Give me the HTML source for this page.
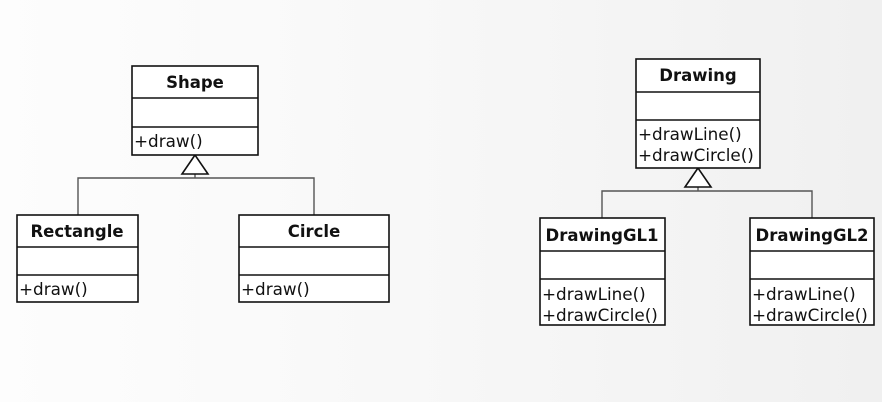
<!DOCTYPE html>
<html><head><meta charset="utf-8">
<style>
html,body{margin:0;padding:0;}
body{width:882px;height:402px;overflow:hidden;background:linear-gradient(90deg,#fdfdfd 0%,#f8f8f8 45%,#f0f0f0 100%);}
svg{display:block;}
text{font-family:"DejaVu Sans","Liberation Sans",sans-serif;fill:#111;}
.t{font-weight:bold;font-size:16.5px;text-anchor:middle;}
.m{font-size:16.8px;}
rect{fill:#fff;stroke:#111;stroke-width:1.6;}
line.d{stroke:#111;stroke-width:1.6;}
.c{stroke:#555;stroke-width:1.4;fill:none;}
.tri{fill:#fff;stroke:#111;stroke-width:1.6;}
</style></head>
<body>
<svg width="882" height="402">
  <g>
    <polyline class="c" points="78,215 78,178 314,178 314,215"/>
    <line class="c" x1="195" y1="174" x2="195" y2="178"/>
    <polygon class="tri" points="195,155 182,174 208,174"/>
    <g>
      <rect x="132" y="66" width="126" height="89"/>
      <line class="d" x1="132" y1="98" x2="258" y2="98"/>
      <line class="d" x1="132" y1="127" x2="258" y2="127"/>
      <text class="t" x="195" y="88">Shape</text>
      <text class="m" x="134" y="147">+draw()</text>
    </g>
    <g>
      <rect x="17" y="215" width="121" height="87"/>
      <line class="d" x1="17" y1="247" x2="138" y2="247"/>
      <line class="d" x1="17" y1="275" x2="138" y2="275"/>
      <text class="t" x="77" y="237">Rectangle</text>
      <text class="m" x="19" y="295">+draw()</text>
    </g>
    <g>
      <rect x="239" y="215" width="150" height="87"/>
      <line class="d" x1="239" y1="247" x2="389" y2="247"/>
      <line class="d" x1="239" y1="275" x2="389" y2="275"/>
      <text class="t" x="314" y="237">Circle</text>
      <text class="m" x="241" y="295">+draw()</text>
    </g>
  </g>
  <g>
    <polyline class="c" points="602,218 602,191 812,191 812,218"/>
    <line class="c" x1="698" y1="187" x2="698" y2="191"/>
    <polygon class="tri" points="698,168 685,187 711,187"/>
    <g>
      <rect x="636" y="59" width="124" height="109"/>
      <line class="d" x1="636" y1="92" x2="760" y2="92"/>
      <line class="d" x1="636" y1="120" x2="760" y2="120"/>
      <text class="t" x="698" y="81">Drawing</text>
      <text class="m" x="638" y="140">+drawLine()</text>
      <text class="m" x="638" y="161">+drawCircle()</text>
    </g>
    <g>
      <rect x="540" y="218" width="125" height="107"/>
      <line class="d" x1="540" y1="251" x2="665" y2="251"/>
      <line class="d" x1="540" y1="279" x2="665" y2="279"/>
      <text class="t" x="602" y="241">DrawingGL1</text>
      <text class="m" x="542" y="300">+drawLine()</text>
      <text class="m" x="542" y="321">+drawCircle()</text>
    </g>
    <g>
      <rect x="750" y="218" width="124" height="107"/>
      <line class="d" x1="750" y1="251" x2="874" y2="251"/>
      <line class="d" x1="750" y1="279" x2="874" y2="279"/>
      <text class="t" x="812" y="241">DrawingGL2</text>
      <text class="m" x="752" y="300">+drawLine()</text>
      <text class="m" x="752" y="321">+drawCircle()</text>
    </g>
  </g>
</svg>
</body></html>
